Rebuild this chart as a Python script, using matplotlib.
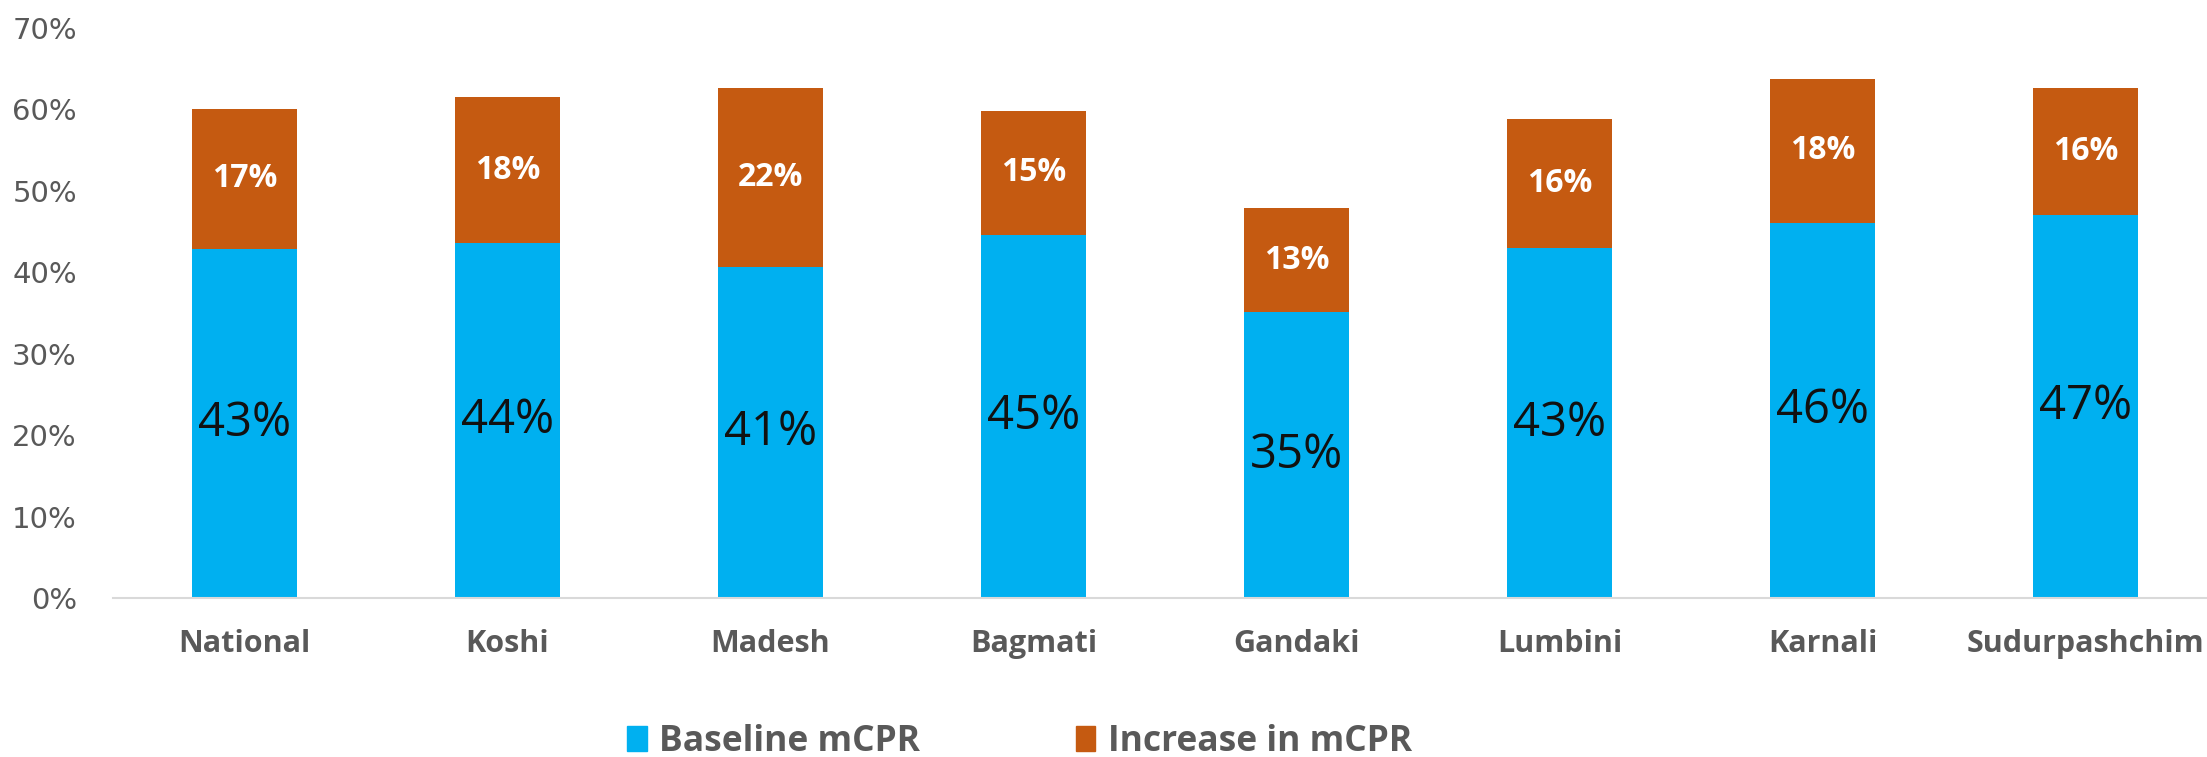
import numpy as np
import matplotlib
matplotlib.use('Agg')
import matplotlib.pyplot as plt
from matplotlib.patches import Patch

regions = ['National', 'Koshi', 'Madesh', 'Bagmati', 'Gandaki', 'Lumbini', 'Karnali', 'Sudurpashchim']
baseline = [42.9, 43.6, 40.6, 44.6, 35.1, 43.0, 46.1, 47.0]
increase = [17.2, 17.9, 22.0, 15.2, 12.8, 15.8, 17.6, 15.6]

blue = '#00B0F0'
orange = '#C55A11'
grey = '#595959'

plt.rcParams['font.family'] = ['Open Sans', 'DejaVu Sans']

fig = plt.figure(figsize=(22.07, 7.57), dpi=100)
ax = fig.add_axes([0.0512, 0.21, 0.9488, 0.753])

x = np.arange(len(regions))
w = 0.4
ax.bar(x, baseline, w, color=blue)
ax.bar(x, increase, w, bottom=baseline, color=orange)

for i in range(len(regions)):
    ax.text(x[i], baseline[i] / 2, '%d%%' % round(baseline[i]), ha='center', va='center',
            fontsize=34, color='#111111')
    ax.text(x[i], baseline[i] + increase[i] / 2, '%d%%' % round(increase[i]), ha='center',
            va='center', fontsize=23, color='white', fontweight='bold')

ax.set_xlim(-0.5, 7.462)
ax.set_ylim(0, 70)
ax.set_yticks(np.arange(0, 71, 10))
ax.set_yticklabels(['%d%%' % v for v in range(0, 71, 10)], fontsize=21, color=grey,
                   family='DejaVu Sans')
ax.set_xticks(x)
ax.set_xticklabels(regions, fontsize=22, fontweight='bold', color=grey)
ax.tick_params(axis='y', length=0, pad=26)
ax.tick_params(axis='x', length=0, pad=22)
for s in ['top', 'right', 'left']:
    ax.spines[s].set_visible(False)
ax.spines['bottom'].set_color('#D9D9D9')
ax.spines['bottom'].set_linewidth(1.5)

handles = [Patch(color=blue, label='Baseline mCPR'), Patch(color=orange, label='Increase in mCPR')]
leg = fig.legend(handles=handles, loc='center', bbox_to_anchor=(0.462, 0.02), ncol=2,
                 frameon=False, handlelength=0.55, handleheight=0.75, handletextpad=0.35,
                 columnspacing=4.4, prop={'size': 25.5, 'weight': 'bold'})
for t in leg.get_texts():
    t.set_color(grey)

fig.savefig('out.png', dpi=100)
